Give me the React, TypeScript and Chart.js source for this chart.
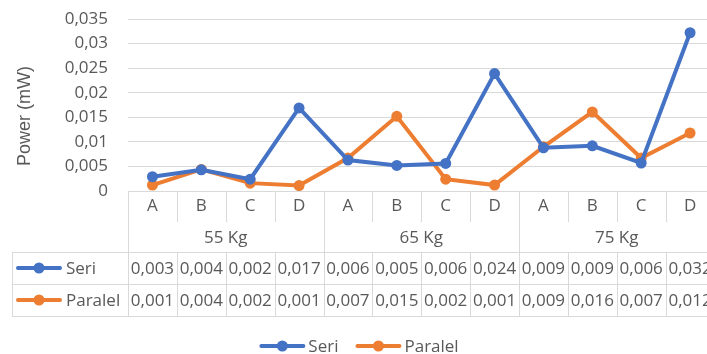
import React, { useEffect, useRef } from 'react';
import { Chart, registerables } from 'chart.js';

Chart.register(...registerables);

const categories = ['A', 'B', 'C', 'D', 'A', 'B', 'C', 'D', 'A', 'B', 'C', 'D'];
const groups = ['55 Kg', '65 Kg', '75 Kg'];
const seriLabel = 'Seri';
const paralelLabel = 'Paralel';
const seri = [0.0029, 0.0043, 0.0024, 0.0169, 0.0063, 0.0052, 0.0056, 0.0239, 0.0088, 0.0092, 0.0057, 0.0322];
const paralel = [0.0012, 0.0044, 0.0016, 0.0011, 0.0067, 0.0152, 0.0024, 0.0012, 0.009, 0.0161, 0.0067, 0.0118];
const yMin = 0;
const yMax = 0.035;
const yStep = 0.005;
const yTitle = 'Power (mW)';

const BLUE = '#4472C4';
const ORANGE = '#ED7D31';
const TEXT = '#595959';
const GRID = '#D9D9D9';
const FONT = '"Open Sans", sans-serif';
const FS = 17;

const fmt = (v: number) => v.toFixed(3).replace('.', ',');
const fmtTick = (v: number) => String(parseFloat(v.toFixed(3))).replace('.', ',');

function drawKey(ctx: CanvasRenderingContext2D, x: number, y: number, color: string) {
  ctx.save();
  ctx.strokeStyle = color;
  ctx.fillStyle = color;
  ctx.lineWidth = 4;
  ctx.lineCap = 'round';
  ctx.beginPath();
  ctx.moveTo(x + 2, y);
  ctx.lineTo(x + 44, y);
  ctx.stroke();
  ctx.beginPath();
  ctx.arc(x + 23, y, 5.5, 0, Math.PI * 2);
  ctx.fill();
  ctx.restore();
}

const tablePlugin = {
  id: 'dataTable',
  afterDraw(chart: any) {
    const { ctx, chartArea } = chart;
    const xs = chart.scales.x;
    const L = chartArea.left;
    const R = chartArea.right;
    const B = chartArea.bottom;
    const n = categories.length;
    const w = (R - L) / n;
    const rowCat = B + 31;
    const rowGrp = B + 61;
    const rowS = B + 93;
    const rowP = B + 125;
    const tableLeft = 12;
    const px = (v: number) => Math.round(v) + 0.5;

    ctx.save();
    ctx.strokeStyle = GRID;
    ctx.lineWidth = 1;
    ctx.beginPath();
    for (let i = 0; i <= n; i++) {
      const bx = px(L + i * w);
      const isG = i % 4 === 0;
      ctx.moveTo(bx, B);
      ctx.lineTo(bx, isG ? rowP : rowCat);
      if (!isG) {
        ctx.moveTo(bx, rowGrp);
        ctx.lineTo(bx, rowP);
      }
    }
    [rowGrp, rowS, rowP].forEach((y) => {
      ctx.moveTo(tableLeft, px(y));
      ctx.lineTo(R + 20, px(y));
    });
    ctx.moveTo(px(tableLeft), rowGrp);
    ctx.lineTo(px(tableLeft), rowP);
    ctx.stroke();

    ctx.fillStyle = TEXT;
    ctx.font = `${FS}px ${FONT}`;
    ctx.textBaseline = 'middle';
    ctx.textAlign = 'center';
    groups.forEach((g, gi) => {
      ctx.fillText(g, L + (gi * 4 + 2) * w, (rowCat + rowGrp) / 2 + 1);
    });
    const ySeri = (rowGrp + rowS) / 2 + 1;
    const yPar = (rowS + rowP) / 2 + 1;
    for (let i = 0; i < n; i++) {
      const cx = xs.getPixelForValue(i);
      ctx.fillText(fmt(seri[i]), cx, ySeri);
      ctx.fillText(fmt(paralel[i]), cx, yPar);
    }
    ctx.textAlign = 'left';
    drawKey(ctx, 16, ySeri - 1, BLUE);
    ctx.fillStyle = TEXT;
    ctx.fillText(seriLabel, 66, ySeri);
    drawKey(ctx, 16, yPar - 1, ORANGE);
    ctx.fillStyle = TEXT;
    ctx.fillText(paralelLabel, 66, yPar);

    // bottom legend
    const ly = 346;
    const wS = ctx.measureText(seriLabel).width;
    const wP = ctx.measureText(paralelLabel).width;
    const total = 46 + 3 + wS + 17 + 46 + 3 + wP;
    let lx = chart.width / 2 - total / 2 - 1;
    drawKey(ctx, lx, ly, BLUE);
    ctx.fillStyle = TEXT;
    ctx.fillText(seriLabel, lx + 49, ly + 1);
    lx += 49 + wS + 17;
    drawKey(ctx, lx, ly, ORANGE);
    ctx.fillStyle = TEXT;
    ctx.fillText(paralelLabel, lx + 49, ly + 1);

    // y axis title
    ctx.save();
    ctx.translate(25, 116);
    ctx.rotate(-Math.PI / 2);
    ctx.textAlign = 'center';
    ctx.font = `18px "Liberation Sans", Arial, sans-serif`;
    ctx.fillStyle = TEXT;
    ctx.fillText(yTitle, 0, 0);
    ctx.restore();
    ctx.restore();
  },
};

export default function App() {
  const ref = useRef<HTMLCanvasElement | null>(null);
  useEffect(() => {
    if (!ref.current) return;
    const chart = new Chart(ref.current, {
      type: 'line',
      data: {
        labels: categories,
        datasets: [
          {
            label: seriLabel,
            data: seri,
            borderColor: BLUE,
            backgroundColor: BLUE,
            borderWidth: 4,
            pointRadius: 5.5,
            pointBorderWidth: 0,
            pointBackgroundColor: BLUE,
            tension: 0,
          },
          {
            label: paralelLabel,
            data: paralel,
            borderColor: ORANGE,
            backgroundColor: ORANGE,
            borderWidth: 4,
            pointRadius: 5.5,
            pointBorderWidth: 0,
            pointBackgroundColor: ORANGE,
            tension: 0,
          },
        ],
      },
      options: {
        responsive: false,
        animation: false,
        layout: { padding: { left: 0, right: 4, top: 19, bottom: 0 } },
        plugins: {
          legend: { display: false },
          tooltip: { enabled: false },
        },
        scales: {
          x: {
            offset: true,
            grid: { display: false, drawTicks: false },
            border: { display: false },
            ticks: {
              color: TEXT,
              font: { family: FONT, size: FS },
              padding: 5,
              maxRotation: 0,
              autoSkip: false,
            },
            afterFit: (s: any) => {
              s.height = 163;
              s.paddingLeft = 0;
              s.paddingRight = 0;
            },
          },
          y: {
            min: yMin,
            max: yMax,
            grid: { color: GRID, drawTicks: false, lineWidth: 1 },
            border: { display: false },
            ticks: {
              stepSize: yStep,
              autoSkip: false,
              maxTicksLimit: 20,
              color: TEXT,
              font: { family: FONT, size: FS },
              padding: 20,
              callback: (v: any) => fmtTick(Number(v)),
            },
            afterFit: (s: any) => {
              s.width = 128;
              s.paddingTop = 0;
              s.paddingBottom = 0;
            },
          },
        },
      },
      plugins: [tablePlugin],
    });
    return () => chart.destroy();
  }, []);
  return (
    <div style={{ position: 'fixed', left: 0, top: 0, width: 707, height: 354, overflow: 'hidden', background: '#fff' }}>
      <canvas ref={ref} width={720} height={354} style={{ display: 'block', width: 720, height: 354 }} />
    </div>
  );
}
